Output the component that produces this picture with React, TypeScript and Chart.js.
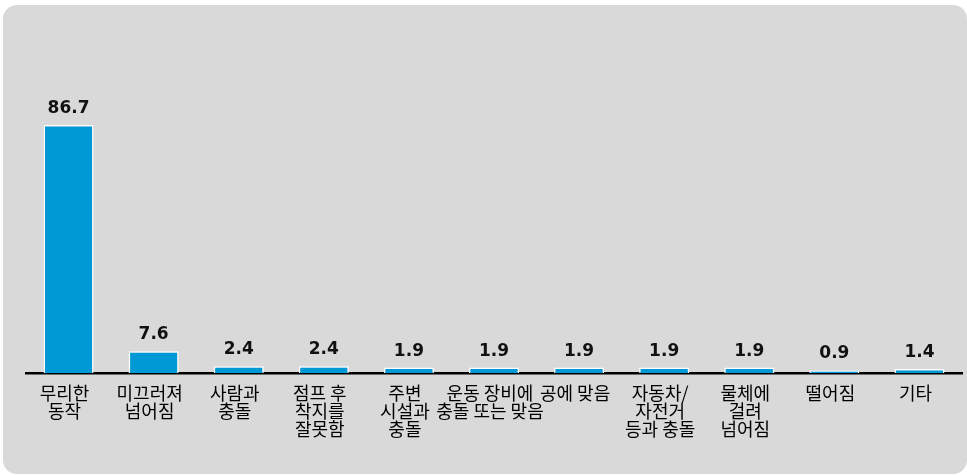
import React, { useEffect, useRef } from "react";
import { Chart, registerables } from "chart.js";

Chart.register(...registerables);

const categories: string[][] = [
  ["무리한", "동작"],
  ["미끄러져", "넘어짐"],
  ["사람과", "충돌"],
  ["점프 후", "착지를", "잘못함"],
  ["주변", "시설과", "충돌"],
  ["운동 장비에", "충돌 또는 맞음"],
  ["공에 맞음"],
  ["자동차/", "자전거", "등과 충돌"],
  ["물체에", "걸려", "넘어짐"],
  ["떨어짐"],
  ["기타"],
];

const values: number[] = [86.7, 7.6, 2.4, 2.4, 1.9, 1.9, 1.9, 1.9, 1.9, 0.9, 1.4];

const valueLabelPlugin = {
  id: "valueLabels",
  afterDatasetsDraw(chart: any) {
    const ctx = chart.ctx;
    const meta = chart.getDatasetMeta(0);
    const data = chart.data.datasets[0].data as number[];
    ctx.save();
    ctx.font = "bold 17px 'DejaVu Sans'";
    ctx.fillStyle = "#111111";
    ctx.textAlign = "center";
    ctx.textBaseline = "alphabetic";
    meta.data.forEach((bar: any, i: number) => {
      ctx.fillText(data[i].toFixed(1), bar.x, bar.y - 12);
    });
    ctx.restore();
  },
};

export default function App() {
  const canvasRef = useRef<HTMLCanvasElement>(null);

  useEffect(() => {
    const canvas = canvasRef.current;
    if (!canvas) return;
    const chart = new Chart(canvas, {
      type: "bar",
      data: {
        labels: categories,
        datasets: [
          {
            data: values,
            backgroundColor: "#0099d5",
            borderColor: "#ffffff",
            borderWidth: 1.5,
            barPercentage: 0.588,
            categoryPercentage: 1,
          },
        ],
      },
      options: {
        responsive: false,
        animation: false,
        layout: { padding: { left: 26, right: 5, top: 87, bottom: 0 } },
        plugins: {
          legend: { display: false },
          tooltip: { enabled: false },
        },
        scales: {
          x: {
            grid: { display: false },
            border: { display: true, color: "#000000", width: 2.5 },
            ticks: {
              autoSkip: false,
              maxRotation: 0,
              minRotation: 0,
              padding: 3,
              labelOffset: -4,
              color: "#000000",
              font: { family: "'Noto Sans CJK KR'", size: 18, lineHeight: 1.0 },
            },
            afterFit: (scale: any) => {
              scale.height = 102;
            },
          },
          y: {
            display: false,
            min: 0,
            max: 100,
          },
        },
      },
      plugins: [valueLabelPlugin],
    });
    return () => chart.destroy();
  }, []);

  return (
    <div style={{ position: "fixed", left: 0, top: 0, width: 967, height: 475, background: "#ffffff", overflow: "hidden" }}>
      <div
        style={{
          position: "absolute",
          left: 3,
          top: 5,
          width: 964,
          height: 469,
          borderRadius: 14,
          background: "#d9d9d9",
        }}
      />
      <canvas ref={canvasRef} width={967} height={475} style={{ position: "absolute", left: 0, top: 0 }} />
    </div>
  );
}
